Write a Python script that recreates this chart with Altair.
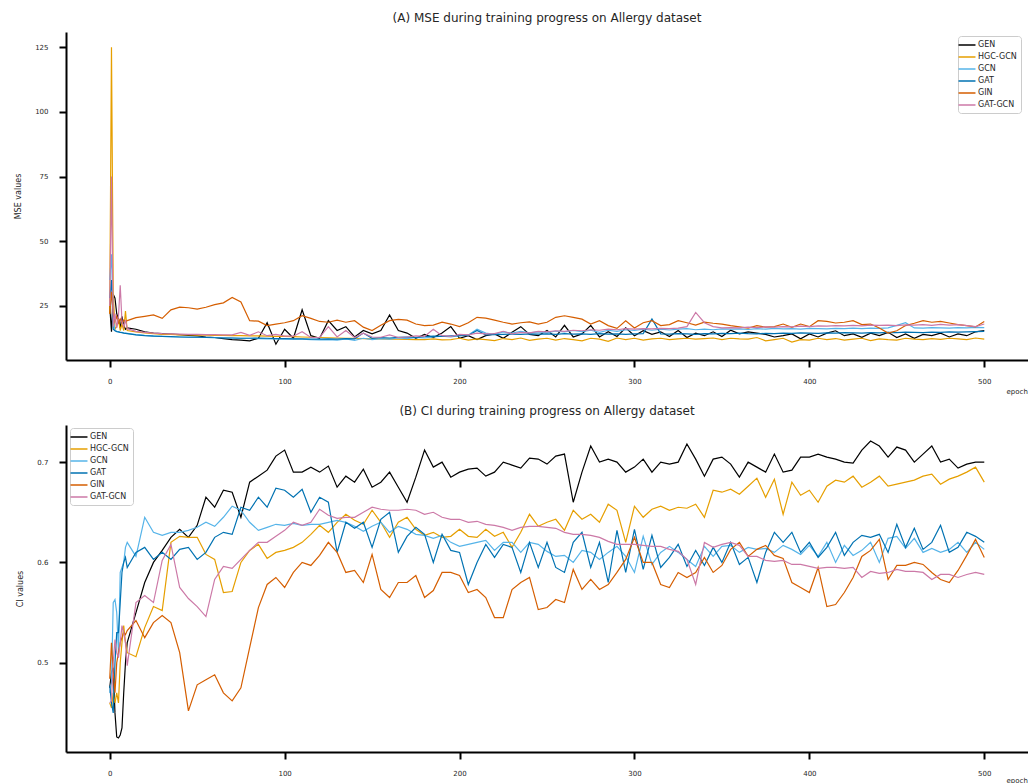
import altair as alt
import pandas as pd

SERIES = ["GEN", "HGC-GCN", "GCN", "GAT", "GIN", "GAT-GCN"]
COLORS = ["#000000", "#E69F00", "#56B4E9", "#0072B2", "#D55E00", "#CC79A7"]

# epochs: 0..9 then every 5 epochs up to 500
EPOCHS = list(range(0, 10)) + list(range(10, 501, 5))

# ---------------- (A) MSE values ----------------
mse_gen = [25, 15, 29.5, 28, 22, 20, 16.5, 21, 17.5, 16,
           16.5, 16.0, 15.0, 14.5, 14.3, 14.1, 13.9, 13.6, 13.4, 13.0,
           12.8, 12.4, 12.0, 11.8, 11.5, 12.5, 18.5, 10.2, 16.0, 12.5,
           23.5, 13.5, 12.5, 19.3, 15.5, 17.0, 13.0, 15.5, 14.2, 15.5,
           21.5, 15.5, 14.5, 12.5, 14.0, 12.8, 14.5, 17.0, 12.5, 13.5,
           12.0, 13.5, 14.2, 12.5, 14.8, 17.0, 14.0, 13.5, 15.5, 13.0,
           17.5, 13.0, 14.2, 17.5, 13.0, 15.0, 13.2, 16.5, 13.5, 15.4,
           14.0, 15.0, 13.2, 15.5, 12.8, 14.5, 13.5, 15.0, 13.2, 15.6,
           14.2, 15.0, 14.5, 14.0, 13.0, 13.5, 14.2, 12.3, 14.2, 13.0,
           14.5, 15.4, 13.5, 14.2, 12.9, 14.5, 13.5, 14.8, 12.8, 14.2,
           12.5, 14.0, 13.5, 14.5, 13.0, 14.2, 13.5, 15.0, 15.5]
mse_hgc = [22, 125, 30, 16, 17, 20, 15.5, 18, 15.5, 23,
           15.5, 15.0, 14.6, 14.3, 14.0, 14.0, 13.8, 13.8, 13.7, 13.7,
           13.6, 13.6, 13.5, 13.5, 13.4, 13.4, 13.3, 13.2, 13.2, 13.1,
           13.0, 12.9, 12.8, 12.7, 12.6, 12.5, 12.5, 12.4, 12.3, 12.3,
           12.2, 12.2, 12.1, 12.0, 12.0, 12.3, 11.9, 12.0, 12.5, 11.8,
           12.3, 12.0, 11.6, 12.4, 12.0, 12.6, 11.7, 12.2, 12.5, 11.8,
           12.4, 12.0, 11.5, 12.5, 12.2, 11.3, 12.6, 12.0, 12.5, 11.8,
           12.3, 12.5, 12.0, 12.3, 12.5, 12.2, 12.4, 12.6, 12.0, 12.5,
           12.3, 12.2, 12.8, 11.5, 12.0, 12.5, 11.0, 12.0, 11.8, 12.5,
           12.0, 12.4, 11.8, 12.2, 12.5, 11.6, 12.3, 12.0, 11.8, 12.5,
           12.2, 12.0, 12.4, 12.1, 12.5, 12.3, 12.0, 12.6, 12.2]
mse_gcn = [35, 45, 20, 15.5, 15.2, 15, 14.8, 14.8, 14.6, 14.5,
           14.4, 13.9, 13.6, 13.4, 13.2, 13.1, 13.0, 13.0, 12.9, 12.9,
           12.8, 12.7, 12.6, 12.5, 12.5, 12.4, 12.3, 12.3, 12.2, 12.3,
           12.2, 12.0, 11.9, 12.0, 11.8, 12.3, 11.7, 12.5, 12.0, 12.4,
           12.2, 12.6, 12.4, 12.8, 12.6, 13.0, 13.3, 13.0, 13.5, 13.8,
           16.0, 14.5, 14.0, 15.0, 14.5, 15.2, 14.6, 15.0, 14.6, 15.3,
           15.0, 15.5, 15.1, 15.6, 14.8, 15.6, 15.2, 15.8, 15.5, 16.0,
           15.6, 16.0, 15.7, 16.0, 16.2, 15.8, 16.0, 15.8, 16.1, 16.0,
           16.1, 15.9, 16.2, 16.0, 16.3, 16.1, 16.2, 16.0, 16.3, 16.2,
           16.1, 16.3, 16.2, 16.4, 16.2, 16.4, 16.3, 16.5, 17.5, 18.5,
           16.5, 16.4, 16.6, 16.5, 16.4, 16.6, 16.5, 16.7, 16.6]
mse_gat = [28, 35, 16, 15.4, 15.1, 15.0, 14.8, 14.7, 14.5, 14.4,
           14.3, 13.8, 13.5, 13.3, 13.2, 13.1, 13.0, 12.9, 12.9, 12.8,
           12.7, 12.6, 12.6, 12.5, 12.5, 12.6, 12.5, 12.4, 12.4, 12.3,
           12.3, 12.2, 12.2, 12.3, 12.2, 12.4, 12.3, 14.5, 12.5, 12.8,
           12.6, 12.9, 13.0, 12.8, 13.1, 13.3, 13.2, 13.4, 13.5, 13.6,
           15.5, 13.8, 13.9, 14.0, 14.1, 14.0, 14.2, 14.1, 14.2, 14.0,
           14.3, 14.1, 14.2, 14.0, 14.3, 14.1, 14.2, 14.0, 14.2, 14.3,
           20.0, 14.2, 14.1, 14.3, 14.2, 14.0, 14.3, 14.2, 14.4, 14.3,
           14.5, 14.3, 14.2, 14.4, 14.3, 14.5, 14.4, 14.6, 14.5, 14.4,
           14.6, 14.5, 14.7, 14.6, 14.5, 14.7, 14.6, 14.8, 14.7, 14.9,
           14.8, 14.7, 14.9, 14.8, 15.0, 14.9, 15.0, 15.1, 15.2]
mse_gin = [22, 30.5, 22, 19, 21, 18.5, 20, 18.5, 19.5, 19,
           19.3, 20.5, 21.0, 21.5, 20.2, 23.5, 24.5, 24.3, 23.8, 24.5,
           25.5, 26.2, 28.3, 26.5, 19.3, 19.1, 17.4, 18.0, 18.5, 19.3,
           21.2, 20.2, 19.0, 18.7, 19.5, 18.7, 19.3, 16.8, 15.5, 17.5,
           19.3, 19.8, 19.5, 18.0, 17.4, 17.6, 18.7, 18.0, 17.0, 18.5,
           20.6, 20.3, 19.5, 18.7, 18.0, 18.5, 18.8, 18.0, 18.7, 20.6,
           21.2, 20.6, 19.9, 18.0, 19.3, 17.4, 16.3, 19.3, 16.5, 18.5,
           19.3, 17.4, 17.8, 19.3, 18.5, 17.6, 18.7, 18.3, 18.0, 17.4,
           16.9, 16.4, 17.4, 16.8, 17.0, 18.0, 16.7, 18.0, 17.0, 19.3,
           19.0, 18.4, 18.7, 19.3, 17.8, 18.0, 16.5, 14.5, 15.4, 17.4,
           18.3, 19.3, 18.7, 19.0, 18.4, 17.8, 17.4, 16.9, 19.0]
mse_gatgcn = [25, 75, 17, 22, 16.5, 21, 33, 19, 17, 19.5,
              16.2, 15.2, 14.8, 14.5, 14.3, 14.2, 14.1, 14.0, 14.0, 13.9,
              13.9, 13.8, 13.8, 14.8, 13.6, 15.0, 13.5, 14.0, 13.3, 13.3,
              15.0, 12.8, 12.8, 17.0, 13.0, 15.5, 12.8, 14.5, 13.0, 12.9,
              13.8, 12.8, 13.0, 13.4, 13.2, 16.0, 13.5, 13.2, 14.0, 13.8,
              14.5, 14.2, 14.3, 15.2, 14.2, 14.8, 14.6, 15.2, 15.0, 15.4,
              15.2, 15.6, 15.4, 15.8, 15.6, 16.0, 15.8, 16.2, 16.0, 16.2,
              16.1, 16.3, 16.2, 16.4, 17.0, 22.5, 18.5, 17.0, 16.5, 16.6,
              16.5, 16.8, 16.6, 16.9, 16.8, 17.0, 16.9, 17.2, 17.0, 17.3,
              17.2, 17.4, 17.3, 17.5, 17.3, 17.6, 17.5, 17.6, 17.4, 17.7,
              17.6, 17.8, 17.5, 17.9, 17.6, 17.8, 17.4, 17.0, 18.0]

# ---------------- (B) CI values ----------------
ci_gen = [0.475, 0.49, 0.495, 0.45, 0.426, 0.425, 0.428, 0.435, 0.47, 0.50,
          0.52, 0.55, 0.58, 0.60, 0.612, 0.625, 0.633, 0.625, 0.637, 0.665,
          0.655, 0.672, 0.67, 0.645, 0.68, 0.686, 0.692, 0.706, 0.712, 0.69,
          0.69, 0.695, 0.69, 0.696, 0.675, 0.686, 0.68, 0.693, 0.675, 0.68,
          0.69, 0.675, 0.66, 0.685, 0.712, 0.695, 0.70, 0.685, 0.69, 0.693,
          0.694, 0.686, 0.69, 0.70, 0.697, 0.694, 0.704, 0.703, 0.698, 0.706,
          0.708, 0.66, 0.69, 0.716, 0.70, 0.703, 0.70, 0.69, 0.695, 0.703,
          0.69, 0.70, 0.698, 0.70, 0.718, 0.703, 0.686, 0.703, 0.705, 0.698,
          0.685, 0.70, 0.695, 0.69, 0.708, 0.69, 0.692, 0.705, 0.705, 0.708,
          0.705, 0.703, 0.70, 0.699, 0.712, 0.721, 0.716, 0.705, 0.715, 0.712,
          0.70, 0.708, 0.716, 0.70, 0.703, 0.694, 0.698, 0.70, 0.70]
ci_hgc = [0.46, 0.455, 0.47, 0.46, 0.47, 0.46, 0.50, 0.52, 0.537, 0.52,
          0.51, 0.506, 0.535, 0.556, 0.552, 0.62, 0.626, 0.625, 0.625, 0.608,
          0.603, 0.57, 0.571, 0.60, 0.612, 0.618, 0.604, 0.61, 0.612, 0.615,
          0.62, 0.628, 0.637, 0.63, 0.64, 0.648, 0.642, 0.638, 0.652, 0.64,
          0.625, 0.64, 0.645, 0.633, 0.627, 0.63, 0.625, 0.626, 0.633, 0.626,
          0.625, 0.633, 0.626, 0.63, 0.615, 0.63, 0.648, 0.636, 0.64, 0.643,
          0.632, 0.652, 0.643, 0.648, 0.64, 0.658, 0.652, 0.62, 0.656, 0.645,
          0.653, 0.656, 0.652, 0.655, 0.654, 0.658, 0.645, 0.672, 0.67, 0.673,
          0.668, 0.676, 0.684, 0.665, 0.683, 0.648, 0.68, 0.667, 0.672, 0.66,
          0.676, 0.682, 0.68, 0.686, 0.675, 0.68, 0.686, 0.676, 0.678, 0.68,
          0.682, 0.686, 0.688, 0.678, 0.683, 0.686, 0.69, 0.695, 0.68]
ci_gcn = [0.47, 0.48, 0.56, 0.563, 0.55, 0.51, 0.59, 0.595, 0.60, 0.615,
          0.62, 0.606, 0.645, 0.63, 0.627, 0.63, 0.63, 0.632, 0.635, 0.64,
          0.636, 0.645, 0.656, 0.652, 0.64, 0.632, 0.635, 0.638, 0.637, 0.639,
          0.637, 0.638, 0.638, 0.64, 0.642, 0.64, 0.636, 0.631, 0.636, 0.64,
          0.63, 0.636, 0.633, 0.628, 0.627, 0.624, 0.627, 0.62, 0.616, 0.618,
          0.62, 0.622, 0.612, 0.62, 0.62, 0.61, 0.62, 0.618, 0.611, 0.606,
          0.607, 0.60, 0.612, 0.61, 0.603, 0.61, 0.616, 0.606, 0.59, 0.626,
          0.598, 0.61, 0.616, 0.61, 0.603, 0.596, 0.616, 0.606, 0.616, 0.617,
          0.61, 0.615, 0.613, 0.614, 0.61, 0.617, 0.613, 0.608, 0.617, 0.606,
          0.62, 0.60, 0.617, 0.607, 0.612, 0.62, 0.60, 0.624, 0.626, 0.614,
          0.624, 0.61, 0.614, 0.61, 0.613, 0.62, 0.61, 0.62, 0.613]
ci_gat = [0.477, 0.46, 0.45, 0.50, 0.53, 0.53, 0.56, 0.59, 0.60, 0.605,
          0.595, 0.61, 0.615, 0.603, 0.61, 0.603, 0.613, 0.615, 0.603, 0.61,
          0.625, 0.63, 0.628, 0.655, 0.652, 0.665, 0.655, 0.674, 0.672, 0.665,
          0.673, 0.65, 0.665, 0.66, 0.61, 0.64, 0.634, 0.64, 0.615, 0.643,
          0.65, 0.61, 0.626, 0.635, 0.628, 0.60, 0.628, 0.612, 0.61, 0.578,
          0.60, 0.618, 0.605, 0.618, 0.615, 0.59, 0.62, 0.595, 0.62, 0.595,
          0.59, 0.62, 0.63, 0.595, 0.62, 0.58, 0.632, 0.59, 0.633, 0.593,
          0.627, 0.595, 0.605, 0.618, 0.596, 0.612, 0.597, 0.615, 0.60, 0.62,
          0.598, 0.605, 0.58, 0.61, 0.63, 0.62, 0.63, 0.61, 0.62, 0.605,
          0.615, 0.63, 0.607, 0.62, 0.627, 0.625, 0.628, 0.61, 0.638, 0.615,
          0.634, 0.613, 0.62, 0.637, 0.61, 0.615, 0.63, 0.626, 0.62]
ci_gin = [0.484, 0.52, 0.49, 0.47, 0.50, 0.51, 0.52, 0.525, 0.53, 0.528,
          0.532, 0.542, 0.525, 0.54, 0.547, 0.54, 0.51, 0.452, 0.478, 0.483,
          0.488, 0.47, 0.462, 0.475, 0.515, 0.555, 0.578, 0.585, 0.575, 0.59,
          0.60, 0.597, 0.607, 0.62, 0.61, 0.59, 0.592, 0.58, 0.608, 0.573,
          0.565, 0.58, 0.58, 0.587, 0.565, 0.572, 0.59, 0.59, 0.587, 0.57,
          0.573, 0.565, 0.545, 0.545, 0.573, 0.58, 0.585, 0.553, 0.555, 0.563,
          0.56, 0.593, 0.573, 0.583, 0.573, 0.578, 0.59, 0.603, 0.625, 0.60,
          0.60, 0.578, 0.575, 0.59, 0.585, 0.59, 0.605, 0.59, 0.597, 0.613,
          0.62, 0.606, 0.613, 0.617, 0.607, 0.604, 0.58, 0.575, 0.57, 0.595,
          0.556, 0.558, 0.57, 0.585, 0.606, 0.612, 0.623, 0.583, 0.597, 0.597,
          0.60, 0.598, 0.59, 0.583, 0.58, 0.592, 0.607, 0.623, 0.605]
ci_gatgcn = [0.46, 0.462, 0.50, 0.523, 0.51, 0.505, 0.52, 0.537, 0.53, 0.52,
             0.497, 0.56, 0.567, 0.56, 0.602, 0.618, 0.575, 0.564, 0.556, 0.546,
             0.583, 0.596, 0.594, 0.603, 0.612, 0.62, 0.62, 0.626, 0.632, 0.64,
             0.637, 0.64, 0.653, 0.647, 0.644, 0.645, 0.645, 0.65, 0.655, 0.653,
             0.652, 0.652, 0.653, 0.652, 0.648, 0.65, 0.645, 0.643, 0.643, 0.64,
             0.641, 0.638, 0.637, 0.635, 0.632, 0.635, 0.636, 0.636, 0.635, 0.634,
             0.63, 0.628, 0.628, 0.627, 0.625, 0.621, 0.618, 0.618, 0.618, 0.617,
             0.616, 0.616, 0.613, 0.611, 0.603, 0.578, 0.62, 0.615, 0.618, 0.62,
             0.617, 0.606, 0.606, 0.602, 0.601, 0.602, 0.598, 0.598, 0.596, 0.594,
             0.595, 0.595, 0.594, 0.595, 0.585, 0.591, 0.589, 0.59, 0.593, 0.591,
             0.591, 0.59, 0.583, 0.588, 0.588, 0.585, 0.588, 0.59, 0.588]

MSE = [mse_gen, mse_hgc, mse_gcn, mse_gat, mse_gin, mse_gatgcn]
CI = [ci_gen, ci_hgc, ci_gcn, ci_gat, ci_gin, ci_gatgcn]


def long_table(series_values):
    rows = []
    for name, vals in zip(SERIES, series_values):
        assert len(vals) == len(EPOCHS), (name, len(vals), len(EPOCHS))
        for e, v in zip(EPOCHS, vals):
            rows.append({"epoch": e, "value": v, "model": name})
    return pd.DataFrame(rows)


FONT = "DejaVu Sans"
TXT = "#262626"


def panel(df, title, ytitle, ydomain, yticks, yfmt, lx, ly, ety, height):
    legend = alt.Legend(
        title=None, orient="none", legendX=lx, legendY=ly,
        symbolType="M-2,0H2", symbolSize=72, symbolStrokeWidth=1.5,
        labelFontSize=8, labelFont=FONT, labelColor=TXT, labelOffset=6,
        rowPadding=3, padding=4, strokeColor="#cccccc", fillColor="white",
        cornerRadius=3, labelLimit=200,
    )
    x = alt.X(
        "epoch:Q",
        scale=alt.Scale(domain=[-25, 525], nice=False, zero=False),
        axis=alt.Axis(
            values=[0, 100, 200, 300, 400, 500], format="d", grid=False,
            title="epoch", titleX=940, titleY=ety, titleAlign="left",
            titleBaseline="middle", titleFontSize=7, titleFontWeight="normal",
            titleFont=FONT, titleColor=TXT,
            labelFontSize=7, labelFont=FONT, labelColor=TXT, labelPadding=10,
            tickSize=7, tickWidth=2, tickColor="black",
            domainWidth=2, domainColor="black",
        ),
    )
    y = alt.Y(
        "value:Q",
        scale=alt.Scale(domain=ydomain, nice=False, zero=False),
        axis=alt.Axis(
            values=yticks, format=yfmt, grid=False, title=ytitle,
            titleFontSize=8, titleFontWeight="normal", titleFont=FONT,
            titleColor=TXT, titlePadding=12,
            labelFontSize=7, labelFont=FONT, labelColor=TXT, labelPadding=11,
            tickSize=7, tickWidth=2, tickColor="black",
            domainWidth=2, domainColor="black",
        ),
    )
    return (
        alt.Chart(df)
        .mark_line(strokeWidth=1.2, clip=True)
        .encode(
            x=x, y=y,
            color=alt.Color("model:N", scale=alt.Scale(domain=SERIES, range=COLORS),
                            legend=legend),
        )
        .properties(
            width=962, height=height,
            title=alt.TitleParams(title, fontSize=12, font=FONT, fontWeight="normal",
                                  color=TXT, anchor="middle", offset=7),
        )
    )


top = panel(long_table(MSE), "(A) MSE during training progress on Allergy dataset",
            "MSE values", [4.1, 130.9], [25, 50, 75, 100, 125], "d",
            892, 4, 31, 328)
bottom = panel(long_table(CI), "(B) CI during training progress on Allergy dataset",
               "CI values", [0.411, 0.737], [0.5, 0.6, 0.7], ".1f",
               4, 3, 28, 327)

chart = (
    alt.vconcat(top, bottom, spacing=11)
    .resolve_legend(color="independent")
    .resolve_scale(y="independent")
    .properties(padding={"left": 14, "top": 12, "right": 0, "bottom": 0})
    .configure(font=FONT)
    .configure_view(stroke=None)
)

chart.save("out.html", embed_options={"renderer": "svg", "actions": False})
